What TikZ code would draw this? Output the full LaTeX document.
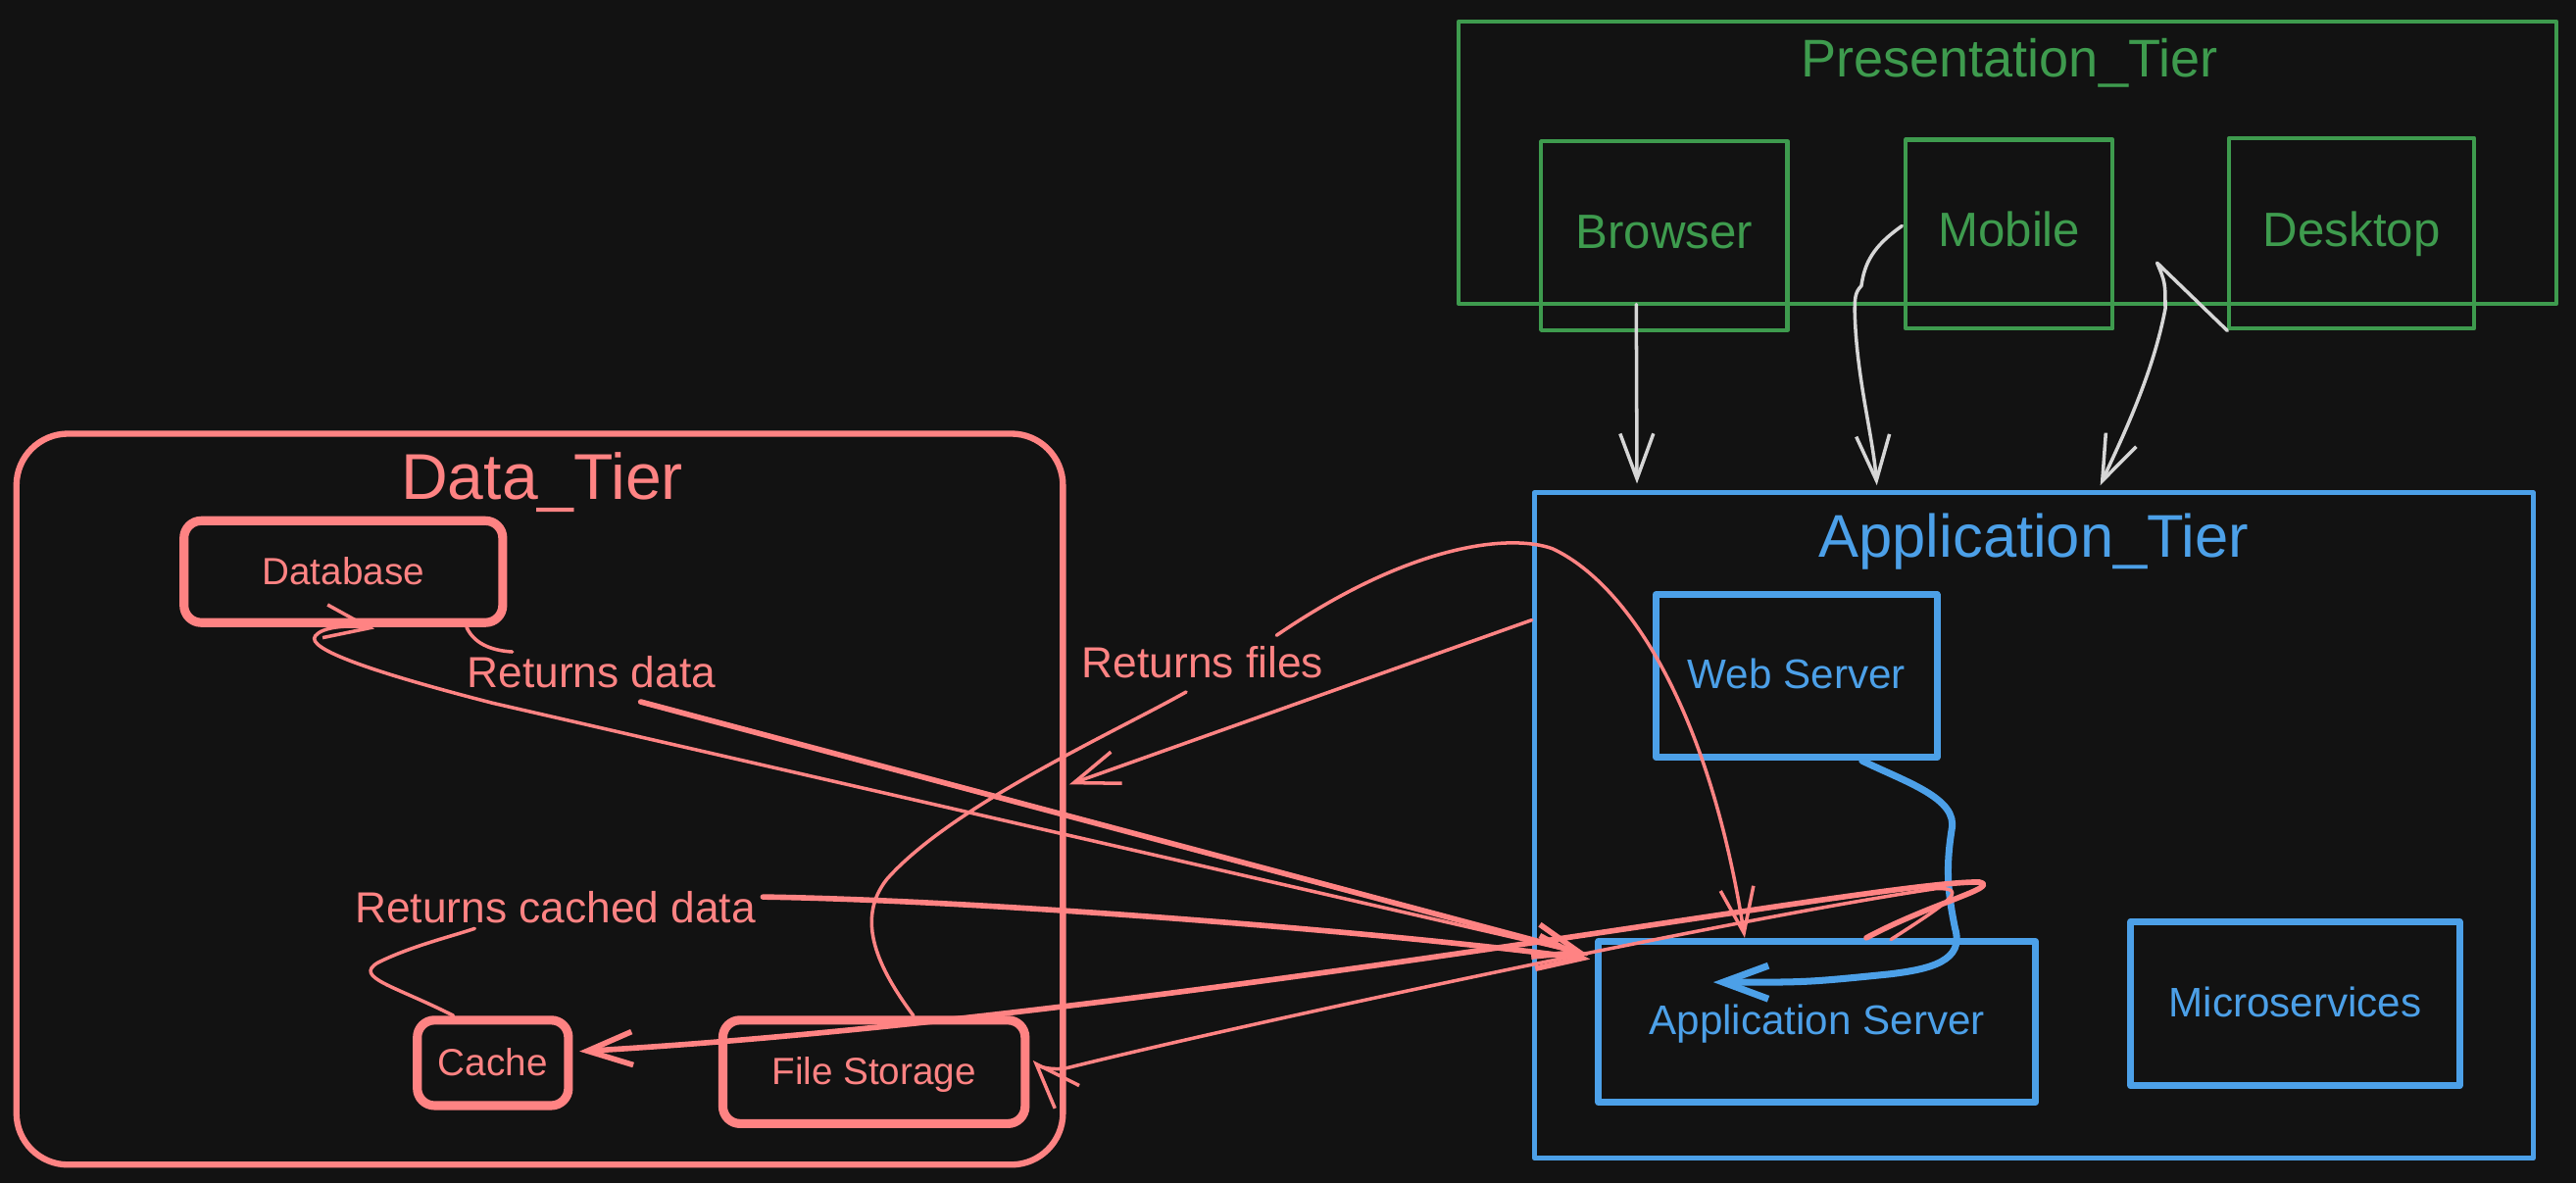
\documentclass[tikz,border=0pt]{standalone}
\usepackage{fontspec}
\setmainfont{Liberation Sans}
\usepackage{tikz}
\usetikzlibrary{
  calc,
  arrows.meta} % for barb tips
\definecolor{bgdark}{HTML}{121212}
\definecolor{dred}{HTML}{FF8383}
\definecolor{dgreen}{HTML}{3E9B4E}
\definecolor{dblue}{HTML}{4CA0E8}
\definecolor{dgrey}{HTML}{D6D6D6}
\newcommand{\px}{0.1676mm}
\tikzstyle{tier} = [draw, inner sep=0pt]
\tikzstyle{tiertitle} = [anchor=base, font=\fontsize{17.5}{21}\selectfont]
\tikzstyle{store} = [draw=dred, text=dred, line width=2.6pt, rounded corners=5pt, text height=0.87em, text depth=0.13em, font=\fontsize{11}{13}\selectfont]
\tikzstyle{client} = [draw=dgreen, text=dgreen, line width=1.2pt, text height=0.87em, text depth=0.13em, font=\fontsize{14}{17}\selectfont]
\tikzstyle{server} = [draw=dblue, text=dblue, line width=2pt, text height=0.87em, text depth=0.13em, font=\fontsize{12}{14}\selectfont]
\tikzstyle{lbl} = [text=dred, inner sep=1pt, font=\fontsize{12.6}{15}\selectfont]
\tikzstyle{reqline} = [dred, line width=1pt]
\tikzstyle{resline} = [dred, line width=1.6pt]

\begin{document}
\begin{tikzpicture}[ x=\px, y=-\px, line cap=round, line join=round, >={Straight Barb[length=4.6mm,width=3.4mm]} ]

\fill[bgdark] (0,0) rectangle (1568,720.2);

\node[tier, draw=dred, line width=1.8pt, rounded corners=15pt, minimum width=637*\px, minimum height=445*\px] (tData) at (328.5,486.5) {};
\node[tiertitle, text=dred, font=\fontsize{18.8}{22}\selectfont] (tDataT) at (330,304) {Data\_Tier};
\node[store, minimum width=194*\px, minimum height=62*\px] (nDb) at (209,348) {Database};
\node[store, minimum width=92*\px, minimum height=52*\px] (nCache) at (300,647) {Cache};
\node[store, minimum width=184*\px, minimum height=63*\px] (nFiles) at (532,652.5) {File Storage};

\node[tier, draw=dgreen, line width=1.2pt, minimum width=668*\px, minimum height=172*\px] (tPres) at (1222,99) {};
\node[tiertitle, text=dgreen, font=\fontsize{15.4}{18}\selectfont] (tPresT) at (1223,47) {Presentation\_Tier};
\node[client, minimum width=150*\px, minimum height=115*\px] (nBrowser) at (1013,143.5) {Browser};
\node[client, minimum width=126*\px, minimum height=115*\px] (nMobile) at (1223,142.5) {Mobile};
\node[client, minimum width=149*\px, minimum height=116*\px] (nDesktop) at (1431.5,142) {Desktop};

\node[tier, draw=dblue, line width=1.5pt, minimum width=608*\px, minimum height=405*\px] (tApp) at (1238,502.5) {};
\node[tiertitle, text=dblue] (tAppT) at (1238,339) {Application\_Tier};
\node[server, minimum width=171*\px, minimum height=99*\px] (nWeb) at (1093.5,411.5) {Web Server};
\node[server, minimum width=266*\px, minimum height=98*\px] (nAppSrv) at (1106,622) {Application Server};
\node[server, minimum width=200*\px, minimum height=100*\px] (nMicro) at (1397,611) {Microservices};

\draw[->, dgrey, line width=1pt] ($(nBrowser.south)+(-17,-17)$) -- ($(tApp.north west)+(64,-4)$);
\draw[->, dgrey, line width=1pt] ($(nMobile.west)+(-1,-5)$) .. controls (1140,150) and (1135,160) .. (1133,174) .. controls (1129,178) and (1129,182) .. (1129,190) .. controls (1130,230) and (1140,265) .. ($(tApp.north west)+(210,-3)$);
\draw[->, dgrey, line width=1pt] (nDesktop.south west) -- (1313,160) .. controls (1318,172) .. (1318,188) .. controls (1310,230) and (1290,270) .. ($(tApp.north west)+(346,-3)$);

\draw[->, dblue, line width=2pt] ($(nWeb.south)+(40,0)$) .. controls (1160,476) and (1192,486) .. (1188,505) .. controls (1184,530) and (1186,545) .. (1190,565) .. controls (1196,585) and (1175,590) .. (1150,593) .. controls (1100,598) .. ($(nAppSrv.north west)+(72,27)$);

\node[lbl] (lData) at (360,409) {Returns data};
\draw[->, reqline] ($(nAppSrv.north west)+(-5,10)$) -- (300,428) .. controls (230,410) and (185,395) .. (192,387) .. controls (196,382) and (210,380) .. ($(nDb.south)+(19,1)$);
\draw[reqline] ($(nDb.south)+(75,0)$) .. controls (288,391) and (298,396) .. ($(lData.north west)+(30,0)$);
\draw[->, resline] ($(lData.south)+(30,6)$) -- ($(nAppSrv.north west)+(-5,10)$);

\node[lbl] (lCached) at (338,552) {Returns cached data};
\draw[reqline] ($(nCache.north)+(-24,0)$) .. controls (240,600) and (215,595) .. (230,586) .. controls (250,576) and (275,570) .. ($(lCached.south)+(-49,1)$);
\draw[->, resline] ($(lCached.east)+(2,-6)$) .. controls (600,548) and (850,568) .. ($(nAppSrv.north west)+(-3,13)$);
\draw[->, resline] ($(nAppSrv.north)+(30,0)$) .. controls (1175,550) and (1218,540) .. (1205,537) .. controls (1150,535) and (700,620) .. ($(nCache.east)+(4,-7)$);

\node[lbl] (lFiles) at (732,403) {Returns files};
\draw[->, reqline] ($(nAppSrv.north)+(45,1)$) .. controls (1185,550) and (1200,540) .. (1178,541) .. controls (1050,560) and (750,625) .. (650,650) .. controls (640,652) and (632,649) .. ($(nFiles.east)+(2,-7)$);
\draw[reqline] ($(nFiles.north)+(24,0)$) .. controls (535,590) and (520,560) .. (540,535) .. controls (580,490) and (680,445) .. ($(lFiles.south)+(-10,6)$);
\draw[->, reqline] ($(lFiles.north)+(45,-4)$) .. controls (860,330) and (920,325) .. (945,334) .. controls (990,355) and (1040,430) .. ($(nAppSrv.north)+(-44,0)$);
\draw[->, reqline] ($(tApp.north west)+(0,79)$) -- ($(tData.east)+(2,-9)$);

\end{tikzpicture}
\end{document}
